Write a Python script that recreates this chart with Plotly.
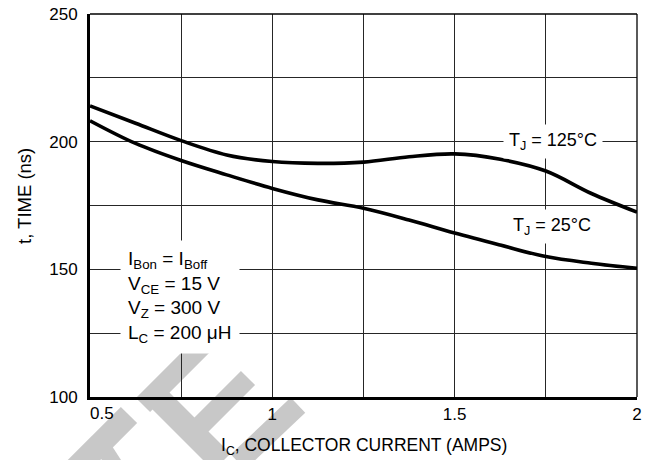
import math
import plotly.graph_objects as go

# Collector current (A) sample points
current = [0.5, 0.625, 0.75, 0.875, 1.0, 1.125, 1.25, 1.375, 1.5, 1.625, 1.75, 1.875, 2.0]
# Switching time (ns) at two junction temperatures
time_125c = [214.0, 207.2, 200.4, 194.8, 192.2, 191.5, 192.0, 194.1, 195.2, 193.1, 188.5, 179.7, 172.4]
time_25c = [208.2, 199.3, 192.6, 187.0, 181.7, 177.2, 173.9, 169.3, 164.2, 159.5, 155.0, 152.4, 150.4]

x_ticks = [0.5, 0.75, 1.0, 1.25, 1.5, 1.75, 2.0]
x_ticktext = ["", "", "1", "", "1.5", "", "2"]
y_ticks = [100, 125, 150, 175, 200, 225, 250]
y_ticktext = ["100", "", "150", "", "200", "", "250"]

FONT = "Liberation Sans, Arial, sans-serif"
W, H = 648, 460
ML, MR, MT, MB = 90, 11, 14, 63
PW, PH = W - ML - MR, H - MT - MB

fig = go.Figure()
for ys in (time_125c, time_25c):
    fig.add_trace(go.Scatter(
        x=current, y=ys, mode="lines",
        line=dict(color="black", width=3.6, shape="spline", smoothing=1.0),
        hoverinfo="skip", showlegend=False,
    ))


def px_to_paper(px, py):
    return (px - ML) / PW, (MT + PH - py) / PH


def stripe(p, q, w):
    """Grey band between two pixel points, returned as an SVG path in paper units."""
    dx, dy = q[0] - p[0], q[1] - p[1]
    n = math.hypot(dx, dy)
    nx, ny = -dy / n * w / 2, dx / n * w / 2
    pts = [(p[0] + nx, p[1] + ny), (q[0] + nx, q[1] + ny),
           (q[0] - nx, q[1] - ny), (p[0] - nx, p[1] - ny)]
    pp = [px_to_paper(*pt) for pt in pts]
    return "M " + " L ".join(f"{a:.4f},{b:.4f}" for a, b in pp) + " Z"


# faint grey logo behind the plot
logo = [
    ((129, 415), (72, 472), 23),
    ((143, 405), (212, 336), 20),
    ((148, 388), (222, 462), 24),
    ((198, 428), (248, 378), 20),
    ((238, 462), (298, 405), 21),
    ((103, 447), (118, 470), 16),
]
shapes = []
for p, q, w in logo:
    shapes.append(dict(type="path", xref="paper", yref="paper", path=stripe(p, q, w),
                       fillcolor="#c8c8c8", line=dict(width=0), layer="below"))

# thin top and right frame
shapes.append(dict(type="line", xref="paper", yref="paper", x0=0, x1=1, y0=1, y1=1,
                   line=dict(color="black", width=1.3)))
shapes.append(dict(type="line", xref="paper", yref="paper", x0=1, x1=1, y0=0, y1=1,
                   line=dict(color="black", width=1.3)))

annotations = [
    dict(x=1.77, y=200, xref="x", yref="y", text="T<sub>J</sub> = 125°C", showarrow=False,
         font=dict(family=FONT, size=18, color="black"), bgcolor="white", borderpad=5,
         xanchor="center", yanchor="middle"),
    dict(x=1.768, y=166.7, xref="x", yref="y", text="T<sub>J</sub> = 25°C", showarrow=False,
         font=dict(family=FONT, size=18, color="black"), bgcolor="white", borderpad=5,
         xanchor="center", yanchor="middle"),
    dict(x=0.748, y=139.0, xref="x", yref="y",
         text="I<sub>Bon</sub> = I<sub>Boff</sub><br>V<sub>CE</sub> = 15 V<br>"
              "V<sub>Z</sub> = 300 V<br>L<sub>C</sub> = 200 μH",
         showarrow=False, align="left", font=dict(family=FONT, size=19, color="black"),
         bgcolor="white", borderpad=7, xanchor="center", yanchor="middle"),
    # first x tick label sits just right of the y axis
    dict(x=0.5, y=100, xref="x", yref="y", text="0.5", showarrow=False,
         font=dict(family=FONT, size=17, color="black"), xanchor="left", yanchor="top",
         xshift=-2, yshift=-5),
    dict(x=0.5, y=(MT + PH - 446) / PH, xref="paper", yref="paper",
         text="I<sub>C</sub>, COLLECTOR CURRENT (AMPS)", showarrow=False,
         font=dict(family=FONT, size=17.5, color="black"), xanchor="center", yanchor="middle"),
    dict(x=(24 - ML) / PW, y=(MT + PH - 196) / PH, xref="paper", yref="paper",
         text="t, TIME (ns)", showarrow=False, textangle=-90,
         font=dict(family=FONT, size=18.5, color="black"), xanchor="center", yanchor="middle"),
]

fig.update_layout(
    width=W, height=H,
    margin=dict(l=ML, r=MR, t=MT, b=MB, pad=0, autoexpand=False),
    paper_bgcolor="white", plot_bgcolor="rgba(0,0,0,0)",
    shapes=shapes, annotations=annotations,
    font=dict(family=FONT, size=17, color="black"),
    xaxis=dict(range=[0.5, 2.0], tickvals=x_ticks, ticktext=x_ticktext,
               showgrid=True, gridcolor="#262626", gridwidth=1,
               showline=True, linecolor="black", linewidth=3, ticks="",
               ticklabelstandoff=0, zeroline=False, fixedrange=True, automargin=False),
    yaxis=dict(range=[100, 250], tickvals=y_ticks, ticktext=y_ticktext,
               showgrid=True, gridcolor="#262626", gridwidth=1,
               showline=True, linecolor="black", linewidth=3, ticks="",
               ticklabelstandoff=6, zeroline=False, fixedrange=True, automargin=False),
)

fig.write_html("out.html", config={"displayModeBar": False})
